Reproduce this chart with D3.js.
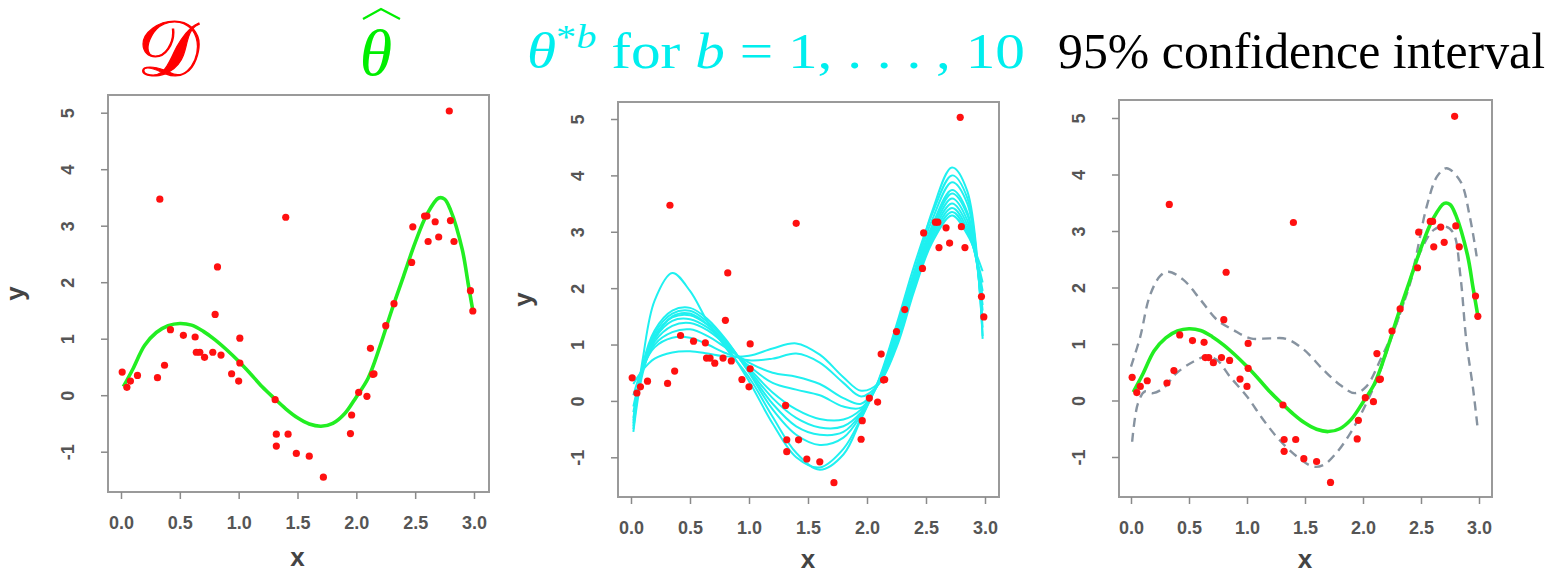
<!DOCTYPE html>
<html>
<head>
<meta charset="utf-8">
<script src="https://cdn.jsdelivr.net/npm/d3@7"></script>
<style>
  body { margin: 0; background: #fff; }
  .tick text { font-family: "Liberation Sans", Arial, sans-serif; }
</style>
</head>
<body>
<div id="bdy"></div>
<script>
var width = 1562;
var height = 575;

// observed sample D
var xObs = [0.01, 0.05, 0.08, 0.14, 0.31, 0.33, 0.37, 0.42, 0.53, 0.63,
            0.64, 0.67, 0.71, 0.78, 0.80, 0.82, 0.85, 0.94, 1.00, 1.01,
            1.01, 1.31, 1.32, 1.32, 1.40, 1.42, 1.49, 1.60, 1.72, 1.95,
            1.96, 2.02, 2.09, 2.12, 2.14, 2.15, 2.25, 2.32, 2.47, 2.48,
            2.58, 2.60, 2.61, 2.67, 2.70, 2.79, 2.80, 2.83, 2.97, 2.99];
var yObs = [0.41, 0.14, 0.25, 0.35, 0.31, 3.47, 0.53, 1.16, 1.06, 1.03,
            0.76, 0.76, 0.67, 0.76, 1.43, 2.27, 0.71, 0.38, 0.25, 1.01,
            0.57, -0.08, -0.69, -0.90, 3.15, -0.69, -1.03, -1.08, -1.45, -0.68,
            -0.35, 0.05, -0.02, 0.83, 0.37, 0.38, 1.23, 1.62, 2.35, 2.98,
            3.17, 3.17, 2.72, 3.07, 2.80, 5.03, 3.09, 2.72, 1.85, 1.49];

// fitted curve theta-hat
var fitX = [0.02, 0.1, 0.2, 0.3, 0.4, 0.5, 0.6, 0.7, 0.8, 0.9, 1.0, 1.1, 1.2, 1.3,
            1.4, 1.5, 1.6, 1.7, 1.8, 1.9, 2.0, 2.1, 2.2, 2.3, 2.4, 2.5, 2.6, 2.7,
            2.75, 2.8, 2.9, 2.95, 2.99];
var fitY = [0.15, 0.46, 0.88, 1.11, 1.23, 1.27, 1.24, 1.13, 0.98, 0.80, 0.60, 0.38, 0.15, -0.05,
            -0.24, -0.40, -0.51, -0.55, -0.50, -0.33, -0.03, 0.30, 0.86, 1.50, 2.10, 2.70, 3.20, 3.49,
            3.47, 3.28, 2.58, 1.98, 1.50];

// bootstrap fits theta*b, b = 1..10
var bootX = [0.02, 0.1, 0.2, 0.35, 0.5, 0.65, 0.8, 1.0, 1.2, 1.4, 1.6, 1.8, 1.95, 2.1,
             2.25, 2.4, 2.55, 2.72, 2.85, 2.98];
var boot1  = [-0.50, 0.75, 1.78, 2.27, 1.95, 1.40, 0.95, 0.42, -0.28, -0.92, -1.22, -0.95, -0.32, 0.36,
              1.25, 2.25, 3.35, 4.14, 3.72, 1.10];
var boot2  = [0.30, 0.55, 0.75, 0.86, 0.88, 0.84, 0.79, 0.80, 0.93, 1.02, 0.82, 0.42, 0.18, 0.32,
              0.95, 1.95, 2.80, 3.29, 2.95, 2.30];
var boot3  = [0.10, 0.60, 0.95, 1.12, 1.12, 1.00, 0.85, 0.72, 0.75, 0.84, 0.68, 0.32, 0.08, 0.30,
              1.00, 2.00, 2.85, 3.35, 3.00, 2.10];
var boot4  = [-0.10, 0.55, 1.00, 1.22, 1.27, 1.15, 0.95, 0.68, 0.50, 0.43, 0.30, 0.05, -0.05, 0.31,
              1.05, 2.05, 2.90, 3.42, 3.05, 1.95];
var boot5  = [-0.20, 0.55, 1.05, 1.33, 1.38, 1.25, 1.00, 0.62, 0.32, 0.20, 0.10, -0.10, -0.12, 0.32,
              1.10, 2.10, 2.95, 3.50, 3.12, 1.85];
var boot6  = [-0.30, 0.55, 1.10, 1.42, 1.45, 1.30, 1.02, 0.58, 0.15, -0.15, -0.32, -0.33, -0.15, 0.33,
              1.15, 2.15, 3.00, 3.59, 3.20, 1.70];
var boot7  = [-0.35, 0.60, 1.15, 1.48, 1.52, 1.35, 1.05, 0.55, 0.05, -0.30, -0.47, -0.45, -0.20, 0.34,
              1.20, 2.20, 3.05, 3.68, 3.30, 1.60];
var boot8  = [-0.40, 0.60, 1.20, 1.55, 1.60, 1.40, 1.08, 0.52, -0.05, -0.45, -0.60, -0.55, -0.22, 0.35,
              1.25, 2.25, 3.10, 3.74, 3.35, 1.45];
var boot9  = [-0.45, 0.65, 1.25, 1.60, 1.65, 1.45, 1.10, 0.50, -0.15, -0.60, -0.78, -0.65, -0.25, 0.36,
              1.30, 2.30, 3.20, 3.88, 3.50, 1.30];
var boot10 = [-0.55, 0.50, 1.10, 1.50, 1.55, 1.35, 1.00, 0.35, -0.40, -1.00, -1.18, -0.85, -0.30, 0.38,
              1.35, 2.40, 3.30, 4.00, 3.60, 1.15];

// 95% confidence interval bounds
var upperX = [0.0, 0.08, 0.16, 0.25, 0.32, 0.45, 0.6, 0.74, 0.88, 1.03, 1.2, 1.34, 1.49, 1.66,
              1.8, 1.93, 2.03, 2.15, 2.29, 2.43, 2.55, 2.64, 2.72, 2.84, 2.92, 2.98];
var upperY = [0.60, 1.13, 1.84, 2.20, 2.28, 2.14, 1.78, 1.43, 1.25, 1.10, 1.10, 1.09, 0.90, 0.54,
              0.28, 0.13, 0.25, 0.72, 1.37, 2.31, 3.44, 3.97, 4.11, 3.88, 3.26, 2.55];
var lowerX = [0.01, 0.06, 0.12, 0.19, 0.28, 0.39, 0.54, 0.65, 0.74, 0.85, 1.0, 1.14, 1.28, 1.43,
              1.57, 1.66, 1.77, 1.89, 2.0, 2.12, 2.23, 2.38, 2.49, 2.61, 2.71, 2.78, 2.84, 2.89,
              2.95, 2.99];
var lowerY = [-0.73, -0.05, 0.16, 0.13, 0.22, 0.48, 0.69, 0.78, 0.72, 0.43, 0.07, -0.34, -0.70, -0.99,
              -1.17, -1.14, -0.93, -0.58, -0.17, 0.37, 1.02, 1.90, 2.61, 3.02, 3.08, 2.96, 2.20, 1.07,
              0.19, -0.52];

var xTicks = [0, 0.5, 1, 1.5, 2, 2.5, 3];
var yTicks = [-1, 0, 1, 2, 3, 4, 5];

var bootSeries = [boot1, boot2, boot3, boot4, boot5, boot6, boot7, boot8, boot9, boot10];

var svg = d3.select('#bdy').append('svg')
    .attr('width', width)
    .attr('height', height)
    .style('display', 'block');

function pairs(xs, ys) {
    return xs.map(function(d, i) { return [d, ys[i]]; });
}

//========================================================================
//                      ONE PANEL (R base style)
//========================================================================
function drawPanel(p) {
    var x = d3.scaleLinear().domain([0, 3]).range([p.x0, p.x3]);
    var y = d3.scaleLinear().domain([-1, 5]).range([p.yM1, p.y5]);
    var g = svg.append('g');

    var line = d3.line()
        .x(function(d) { return x(d[0]); })
        .y(function(d) { return y(d[1]); })
        .curve(d3.curveCatmullRom.alpha(0.5));

    // box
    g.append('rect')
        .attr('x', p.box[0]).attr('y', p.box[1])
        .attr('width', p.box[2] - p.box[0]).attr('height', p.box[3] - p.box[1])
        .attr('fill', 'none').attr('stroke', '#9a9a9a').attr('stroke-width', 2);

    // x axis
    var xa = g.append('g')
        .attr('transform', 'translate(0,' + p.box[3] + ')')
        .call(d3.axisBottom(x).tickValues(xTicks).tickFormat(d3.format('.1f'))
              .tickSize(7).tickPadding(0));
    xa.select('.domain').remove();
    xa.selectAll('line').attr('stroke', '#8a8a8a').attr('stroke-width', 1.5);
    xa.selectAll('text')
        .attr('y', 37).attr('dy', 0)
        .style('font-size', '18px').style('font-weight', 'bold')
        .attr('fill', '#555');

    // y axis (R prints a plain hyphen for negatives)
    var ya = g.append('g')
        .attr('transform', 'translate(' + p.box[0] + ',0)')
        .call(d3.axisLeft(y).tickValues(yTicks).tickFormat(function(d) { return String(d); })
              .tickSize(7));
    ya.select('.domain').remove();
    ya.selectAll('line').attr('stroke', '#8a8a8a').attr('stroke-width', 1.5);
    ya.selectAll('text')
        .attr('x', 0).attr('dy', 0)
        .attr('text-anchor', 'middle')
        .attr('transform', 'translate(-34,0) rotate(-90)')
        .style('font-size', '18px').style('font-weight', 'bold')
        .attr('fill', '#555');

    // axis titles
    g.append('text')
        .attr('x', (p.x0 + p.x3) / 2).attr('y', p.xLabY)
        .attr('text-anchor', 'middle')
        .style('font-family', '"Liberation Sans", Arial, sans-serif')
        .style('font-size', '26px').style('font-weight', 'bold')
        .attr('fill', '#444')
        .text('x');
    if (p.yLabX) {
        g.append('text')
            .attr('transform', 'translate(' + p.yLabX + ',' + (p.box[1] + p.box[3]) / 2 + ') rotate(-90)')
            .attr('text-anchor', 'middle')
            .style('font-family', '"Liberation Sans", Arial, sans-serif')
            .style('font-size', '26px').style('font-weight', 'bold')
            .attr('fill', '#444')
            .text('y');
    }

    if (p.boot) {
        g.selectAll('.boot')
            .data(bootSeries)
            .enter().append('path')
            .attr('class', 'boot')
            .attr('d', function(s) { return line(pairs(bootX, s)); })
            .attr('fill', 'none')
            .attr('stroke', '#1ff0f0')
            .attr('stroke-width', 2);
    }
    if (p.ci) {
        [pairs(upperX, upperY), pairs(lowerX, lowerY)].forEach(function(s) {
            g.append('path')
                .attr('d', line(s))
                .attr('fill', 'none')
                .attr('stroke', '#8793a0')
                .attr('stroke-width', 2.4)
                .attr('stroke-dasharray', '9,6');
        });
    }
    if (p.fit) {
        g.append('path')
            .attr('d', line(pairs(fitX, fitY)))
            .attr('fill', 'none')
            .attr('stroke', '#22ee22')
            .attr('stroke-width', 3.6);
    }

    // data points
    g.selectAll('.pt')
        .data(pairs(xObs, yObs))
        .enter().append('circle')
        .attr('class', 'pt')
        .attr('cx', function(d) { return x(d[0]); })
        .attr('cy', function(d) { return y(d[1]); })
        .attr('r', 3.6)
        .attr('fill', '#ff1010');
}

drawPanel({x0: 121, x3: 474, yM1: 451.7, y5: 112.7, box: [108, 95, 489, 492],
           xLabY: 566, yLabX: 24, fit: true});
drawPanel({x0: 631, x3: 985, yM1: 457.3, y5: 119, box: [618, 102, 999, 497],
           xLabY: 568, yLabX: 532, boot: true});
drawPanel({x0: 1131, x3: 1479, yM1: 457, y5: 118, box: [1119, 100, 1492, 497],
           xLabY: 568, ci: true, fit: true});

//========================================================================
//                      TITLES
//========================================================================
var serif = '"Liberation Serif", "DejaVu Serif", serif';

svg.append('text')
    .attr('x', 168).attr('y', 75)
    .attr('text-anchor', 'middle')
    .style('font-family', serif)
    .style('font-size', '78px')
    .attr('fill', '#ff0000')
    .attr('stroke', '#ff0000')
    .attr('stroke-width', 1.2)
    .text('\u{1D49F}');

var th = svg.append('g');
th.append('text')
    .attr('x', 376).attr('y', 75)
    .attr('text-anchor', 'middle')
    .style('font-family', serif)
    .style('font-size', '66px')
    .style('font-style', 'italic')
    .attr('fill', '#00ee00')
    .text('\u03B8');
th.append('path')
    .attr('d', 'M363,19 L381,9 L400,19')
    .attr('fill', 'none')
    .attr('stroke', '#00ee00')
    .attr('stroke-width', 2.2);

var cy = svg.append('text')
    .attr('x', 527).attr('y', 68)
    .attr('textLength', 498)
    .attr('lengthAdjust', 'spacingAndGlyphs')
    .style('font-family', serif)
    .style('font-size', '50px')
    .attr('fill', '#00eeee');
cy.append('tspan').style('font-style', 'italic').text('\u03B8');
cy.append('tspan').attr('dy', -20).style('font-size', '34px').text('*');
cy.append('tspan').style('font-size', '34px').style('font-style', 'italic').text('b');
cy.append('tspan').attr('dy', 20).text(' for ');
cy.append('tspan').style('font-style', 'italic').text('b');
cy.append('tspan').text(' = 1, . . . , 10');

svg.append('text')
    .attr('x', 1058).attr('y', 68)
    .attr('textLength', 487)
    .attr('lengthAdjust', 'spacingAndGlyphs')
    .style('font-family', serif)
    .style('font-size', '50px')
    .attr('fill', '#000')
    .text('95% confidence interval');
</script>
</body>
</html>
